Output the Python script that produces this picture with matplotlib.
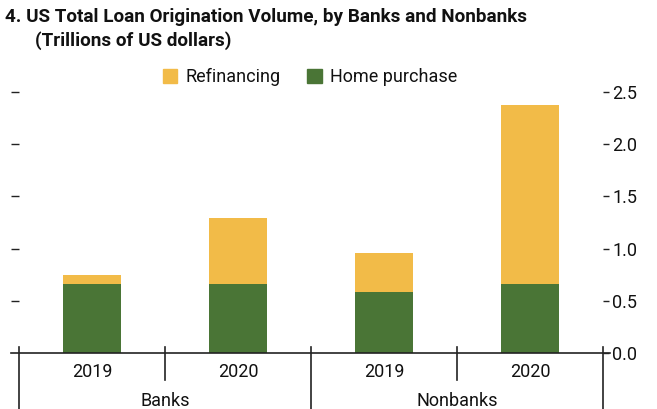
import matplotlib
matplotlib.use("Agg")
import matplotlib.pyplot as plt
import matplotlib.transforms as mtransforms
from matplotlib.patches import Patch

plt.rcParams['font.family'] = ['Liberation Sans Narrow', 'Roboto', 'DejaVu Sans']

# Data (trillions of US dollars)
groups = ["Banks", "Nonbanks"]
years = ["2019", "2020", "2019", "2020"]
home_purchase = [0.66, 0.66, 0.58, 0.66]
refinancing = [0.09, 0.63, 0.38, 1.72]
yticks = [0.0, 0.5, 1.0, 1.5, 2.0, 2.5]

GREEN = "#4a7536"
YELLOW = "#f2bb48"
LINE = "#222222"
TXT = "#111111"
FS = 13

W, H = 657, 409
fig = plt.figure(figsize=(W / 100, H / 100), dpi=100)
ax = fig.add_axes([19 / W, 1 - 353 / H, (603 - 19) / W, (353 - 92) / H])

x = list(range(len(years)))
ax.bar(x, home_purchase, width=0.4, color=GREEN, label="Home purchase", zorder=2)
ax.bar(x, refinancing, width=0.4, bottom=home_purchase, color=YELLOW,
       label="Refinancing", zorder=2)

ax.set_xlim(-0.5, len(years) - 0.5)
ax.set_ylim(0, 2.5)
for s in ax.spines.values():
    s.set_visible(False)
ax.set_xticks([])

ax.set_yticks(yticks)
ax.set_yticklabels([f"{v:.1f}" for v in yticks])
ax.tick_params(axis='y', left=True, right=True, labelleft=False, labelright=True,
               direction='out', width=1.0, color=LINE, labelsize=FS, pad=3,
               labelcolor=TXT)
ticks = ax.yaxis.get_major_ticks()
for t, v in zip(ticks, yticks):
    t.tick1line.set_markersize(6)
    t.tick2line.set_markersize(4)
    if v == 0.0:
        t.tick1line.set_visible(False)

# zero baseline, slightly extended past both sides
ax.plot([-8 / 584, 1 + 7 / 584], [0, 0], transform=ax.transAxes, color=LINE,
        lw=1.2, clip_on=False, zorder=3)

# category separators below the axis
bt = mtransforms.blended_transform_factory(ax.transData, fig.transFigure)
y_top = 1 - 347 / H
for xv in [-0.5, 1.5, 3.5]:
    ax.plot([xv, xv], [y_top, 0], transform=bt, color=LINE, lw=1.2, clip_on=False)
for xv in [0.5, 2.5]:
    ax.plot([xv, xv], [y_top, 1 - 380 / H], transform=bt, color=LINE, lw=1.2,
            clip_on=False)

for xv, lab in zip(x, years):
    ax.text(xv, 1 - 372 / H, lab, transform=bt, ha='center', va='center',
            fontsize=FS, color=TXT)
for i, g in enumerate(groups):
    ax.text(2 * i + 0.5, 1 - 401 / H, g, transform=bt, ha='center', va='center',
            fontsize=FS, color=TXT)

# legend
handles = [Patch(color=YELLOW, label="Refinancing"),
           Patch(color=GREEN, label="Home purchase")]
fig.legend(handles=handles, loc='center', bbox_to_anchor=(310 / W, 1 - 77 / H),
           ncol=2, frameon=False, fontsize=FS, handlelength=0.8,
           handleheight=0.8, handletextpad=0.45, columnspacing=1.5,
           labelcolor=TXT)

# title
fig.text(5 / W, 1 - 17 / H, "4. US Total Loan Origination Volume, by Banks and Nonbanks",
         fontsize=13.6, fontweight='bold', ha='left', va='center', color=TXT)
fig.text(35 / W, 1 - 41 / H, "(Trillions of US dollars)",
         fontsize=13.6, fontweight='bold', ha='left', va='center', color=TXT)

fig.savefig("out.png", dpi=100)
